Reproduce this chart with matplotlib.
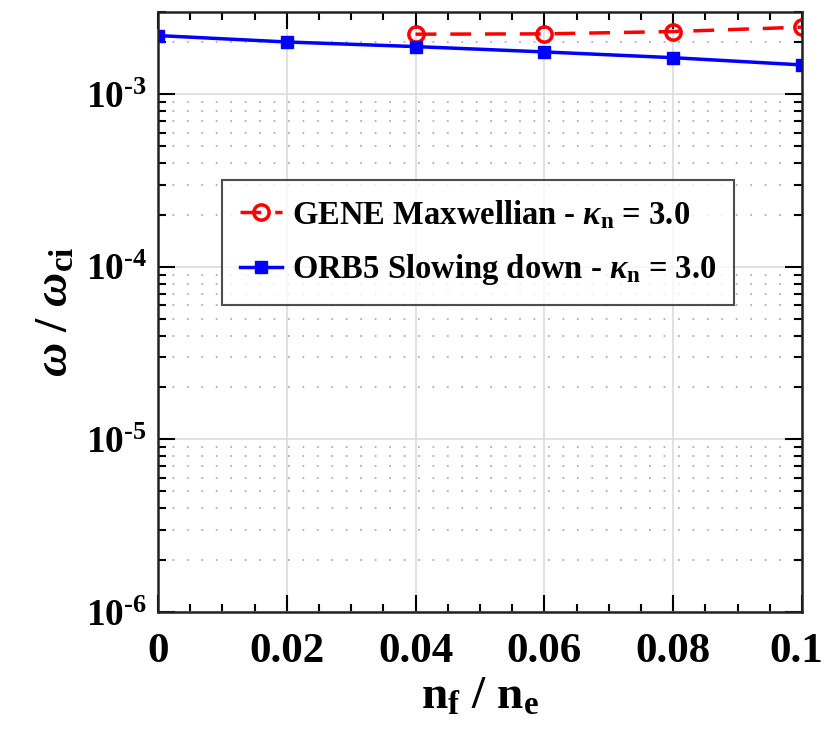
import numpy as np
import matplotlib
matplotlib.use('Agg')
import matplotlib.pyplot as plt
import matplotlib.transforms as mtransforms
from matplotlib.ticker import LogLocator, FixedLocator, NullFormatter, FuncFormatter

plt.rcParams['font.family'] = 'Liberation Serif'
plt.rcParams['font.weight'] = 'bold'
plt.rcParams['axes.labelweight'] = 'bold'
plt.rcParams['mathtext.fontset'] = 'custom'
plt.rcParams['mathtext.rm'] = 'Liberation Serif:bold'
plt.rcParams['mathtext.bf'] = 'Liberation Serif:bold'
plt.rcParams['mathtext.it'] = 'Liberation Serif:italic:bold'

# fast particle fraction n_f / n_e
orb5_x = [0.0, 0.02, 0.04, 0.06, 0.08, 0.1]
orb5_w = [2.19e-3, 2.01e-3, 1.89e-3, 1.76e-3, 1.63e-3, 1.48e-3]
gene_x = [0.04, 0.06, 0.08, 0.1]
gene_w = [2.23e-3, 2.24e-3, 2.31e-3, 2.45e-3]
xticks = [0, 0.02, 0.04, 0.06, 0.08, 0.1]
xticklabels = ['0', '0.02', '0.04', '0.06', '0.08', '0.1']

fig = plt.figure(figsize=(8.29, 7.34), dpi=100)
ax = fig.add_axes([0.1906, 0.1662, 0.7768, 0.8175])

ax.plot(gene_x, gene_w, linestyle='--', color='r', marker='o', markersize=11,
        markerfacecolor='none', markeredgewidth=2.5, linewidth=2.5,
        dashes=(6, 4), label=r'GENE Maxwellian - $\kappa_{\mathrm{n}}$ = 3.0')
ax.plot(orb5_x, orb5_w, linestyle='-', color='b', marker='s', markersize=9,
        linewidth=2.5, label=r'ORB5 Slowing down - $\kappa_{\mathrm{n}}$ = 3.0')

ax.set_yscale('log')
ax.set_xlim(0, 0.1)
ax.set_ylim(1e-6, 3e-3)
ax.set_xticks(xticks)
ax.set_xticklabels(xticklabels)
ax.xaxis.set_minor_locator(FixedLocator(np.arange(0, 0.1001, 0.005)))
ax.yaxis.set_major_locator(LogLocator(base=10, numticks=10))
ax.yaxis.set_major_formatter(FuncFormatter(
    lambda v, p: r'10$^{\text{-%d}}$' % round(-np.log10(v))))
ax.yaxis.set_minor_locator(LogLocator(base=10, subs=np.arange(2, 10), numticks=10))
ax.yaxis.set_minor_formatter(NullFormatter())

ax.grid(True, which='major', color='#dcdcdc', linewidth=1.2, linestyle='-')
ax.grid(True, which='minor', axis='y', color='#b0b0b0', linewidth=1.3, linestyle=(0, (1, 7)))
ax.set_axisbelow(True)

ax.tick_params(which='both', direction='in', top=True, right=True, width=1.5)
ax.tick_params(which='major', length=12)
ax.tick_params(which='minor', length=6)
ax.tick_params(axis='x', labelsize=31, pad=15)
ax.tick_params(axis='y', labelsize=27, pad=8)
for sp in ax.spines.values():
    sp.set_linewidth(1.8)
    sp.set_color('#222222')

# keep the last x tick label inside the figure
last = ax.get_xticklabels()[-1]
last.set_transform(last.get_transform() +
                   mtransforms.ScaledTranslation(-6 / 100, 0, fig.dpi_scale_trans))

ax.set_xlabel(r'n$_{\mathrm{f}}$ / n$_{\mathrm{e}}$', fontsize=34, labelpad=4)
ax.set_ylabel(r'$\omega$ / $\omega_{\mathrm{ci}}$', fontsize=34, labelpad=6)

leg = ax.legend(loc='upper left', bbox_to_anchor=(0.099, 0.72), fontsize=23.5,
                frameon=True, fancybox=False, edgecolor='#222222',
                handlelength=1.3, handletextpad=0.3, borderpad=0.55,
                labelspacing=0.65, borderaxespad=0)
leg.get_frame().set_linewidth(1.5)

plt.savefig('out.png', dpi=100)
